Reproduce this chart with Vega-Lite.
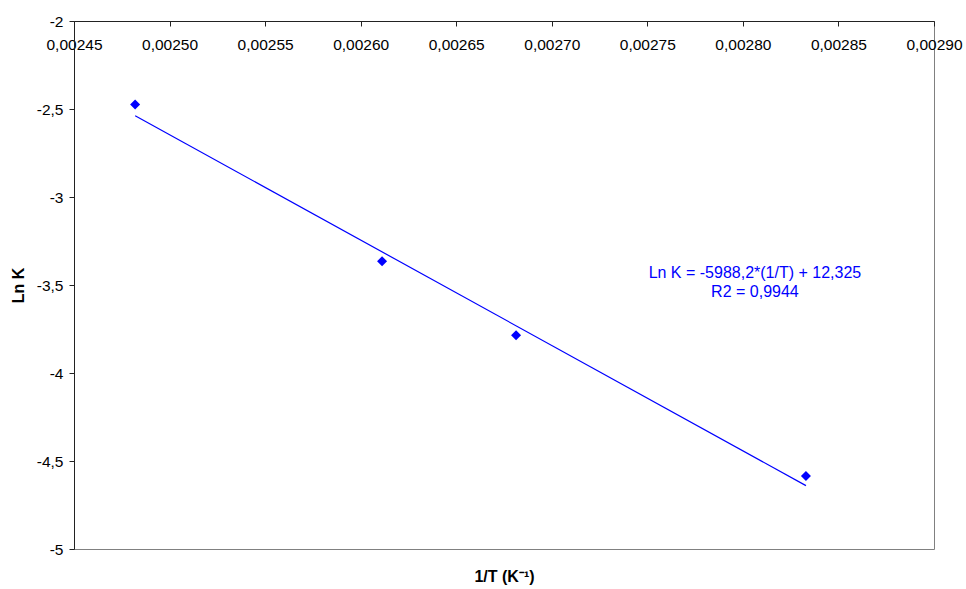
{
  "$schema": "https://vega.github.io/schema/vega-lite/v6.json",
  "width": 860,
  "height": 528,
  "autosize": {"type": "none"},
  "padding": {"left": 74, "top": 21, "right": 32, "bottom": 40},
  "background": "white",
  "config": {
    "locale": {"number": {"decimal": ",", "thousands": ".", "grouping": [3], "currency": ["", ""], "minus": "-"}},
    "view": {"stroke": "#808080", "strokeWidth": 1},
    "font": "Liberation Sans",
    "axis": {
      "grid": false,
      "domainColor": "#222222",
      "tickColor": "#222222",
      "labelColor": "#000000",
      "titleColor": "#000000",
      "labelFont": "Liberation Sans",
      "titleFont": "Liberation Sans",
      "labelFontSize": 15.5,
      "titleFontSize": 16,
      "titleFontWeight": "bold",
      "tickSize": 5
    }
  },
  "datasets": {
    "points": [
      {"x": 0.002482, "y": -2.474},
      {"x": 0.0026112, "y": -3.365},
      {"x": 0.0026813, "y": -3.785},
      {"x": 0.002833, "y": -4.585}
    ],
    "fit": [
      {"x": 0.002482, "y": -2.538},
      {"x": 0.002833, "y": -4.640}
    ],
    "note": [
      {"x": 0.0028063, "y": -3.432, "label": "Ln K = -5988,2*(1/T) + 12,325\nR2 = 0,9944"}
    ]
  },
  "encoding": {
    "x": {
      "field": "x",
      "type": "quantitative",
      "scale": {"domain": [0.00245, 0.0029], "nice": false, "zero": false},
      "axis": {
        "orient": "bottom",
        "offset": -528,
        "values": [0.00245, 0.0025, 0.00255, 0.0026, 0.00265, 0.0027, 0.00275, 0.0028, 0.00285, 0.0029],
        "format": ".5f",
        "labelPadding": 11,
        "labelFlush": false,
        "labelOverlap": false,
        "title": "1/T (K⁻¹)",
        "titleY": 555,
        "titleBaseline": "middle"
      }
    },
    "y": {
      "field": "y",
      "type": "quantitative",
      "scale": {"domain": [-5, -2], "nice": false, "zero": false},
      "axis": {
        "values": [-5, -4.5, -4, -3.5, -3, -2.5, -2],
        "format": ".1~f",
        "labelPadding": 6,
        "labelFlush": false,
        "labelOverlap": false,
        "title": "Ln K",
        "titlePadding": 10
      }
    }
  },
  "layer": [
    {
      "data": {"name": "fit"},
      "mark": {"type": "line", "color": "#0000FF", "strokeWidth": 1.2}
    },
    {
      "data": {"name": "points"},
      "mark": {"type": "point", "shape": "diamond", "filled": true, "color": "#0000FF", "size": 100, "opacity": 1}
    },
    {
      "data": {"name": "note"},
      "mark": {"type": "text", "color": "#0000FF", "font": "Liberation Sans", "fontSize": 16, "align": "center", "baseline": "middle", "lineBreak": "\n", "lineHeight": 19},
      "encoding": {"text": {"field": "label"}}
    }
  ]
}
